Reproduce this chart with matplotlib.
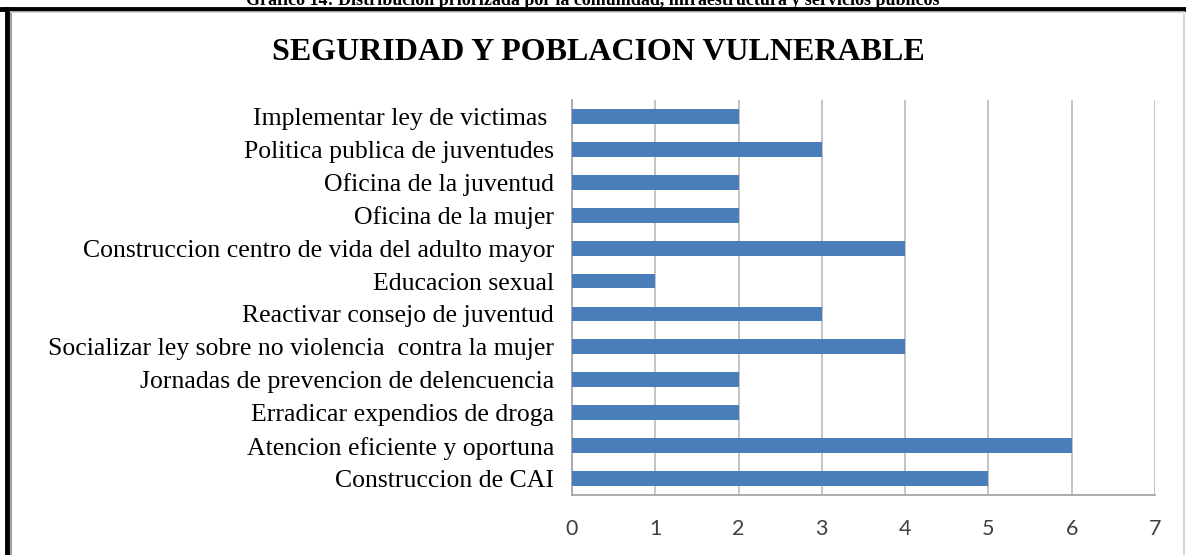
import matplotlib
matplotlib.use("Agg")
import matplotlib.pyplot as plt
from matplotlib.lines import Line2D

categories = [
    "Implementar ley de victimas ",
    "Politica publica de juventudes",
    "Oficina de la juventud",
    "Oficina de la mujer",
    "Construccion centro de vida del adulto mayor",
    "Educacion sexual",
    "Reactivar consejo de juventud",
    "Socializar ley sobre no violencia  contra la mujer",
    "Jornadas de prevencion de delencuencia",
    "Erradicar expendios de droga",
    "Atencion eficiente y oportuna",
    "Construccion de CAI",
]
values = [2, 3, 2, 2, 4, 1, 3, 4, 2, 2, 6, 5]
xticks = [0, 1, 2, 3, 4, 5, 6, 7]

W, H = 1186, 555
fig = plt.figure(figsize=(W / 100, H / 100), dpi=100)
fig.patch.set_facecolor("white")

ax = fig.add_axes([572 / W, 1 - 495 / H, (1155 - 572) / W, (495 - 100) / H])
n = len(categories)
ypos = list(range(n))
ax.barh(ypos, values, height=0.45, color="#4A7EBB", zorder=3)
ax.set_ylim(n - 0.5, -0.5)
ax.set_xlim(0, 7)
ax.set_xticks(xticks)
ax.set_xticklabels([str(t) for t in xticks], fontfamily="Lato", fontsize=15.5, color="#404040")
ax.set_yticks(ypos)
ax.set_yticklabels(categories, fontfamily="Liberation Serif", fontsize=18.5, color="black")
ax.tick_params(axis="x", length=0, pad=17)
ax.tick_params(axis="y", length=0, pad=13)
ax.grid(axis="x", color="#BFBFBF", linewidth=1.3, zorder=0)
for s in ["top", "right"]:
    ax.spines[s].set_visible(False)
for s in ["left", "bottom"]:
    ax.spines[s].set_color("#A6A6A6")
    ax.spines[s].set_linewidth(1.3)

fig.text(598 / W, 1 - 53 / H, "SEGURIDAD Y POBLACION VULNERABLE", ha="center", va="center",
         fontfamily="Liberation Serif", fontweight="bold", fontsize=23)

fig.text(593 / W, 1 - 5 / H,
         "Grafico 14: Distribucion priorizada por la comunidad, infraestructura y servicios publicos",
         ha="center", va="baseline", fontfamily="Liberation Serif", fontweight="bold", fontsize=13)

# black frame (top and left) and grey chart border
fig.add_artist(Line2D([0, 1], [1 - 9 / H, 1 - 9 / H], color="black", linewidth=3.5, transform=fig.transFigure))
fig.add_artist(Line2D([7 / W, 7 / W], [0, 1 - 9 / H], color="black", linewidth=3.5, transform=fig.transFigure))
fig.add_artist(Line2D([10.5 / W, 10.5 / W], [0, 1 - 12 / H], color="#A0A0A0", linewidth=1.5, transform=fig.transFigure))
fig.add_artist(Line2D([10.5 / W, 1184 / W], [1 - 12 / H, 1 - 12 / H], color="#C8C8C8", linewidth=1.2, transform=fig.transFigure))
fig.add_artist(Line2D([1184 / W, 1184 / W], [0, 1 - 12 / H], color="#D0D0D0", linewidth=1.2, transform=fig.transFigure))

fig.savefig("out.png", dpi=100, facecolor="white")
